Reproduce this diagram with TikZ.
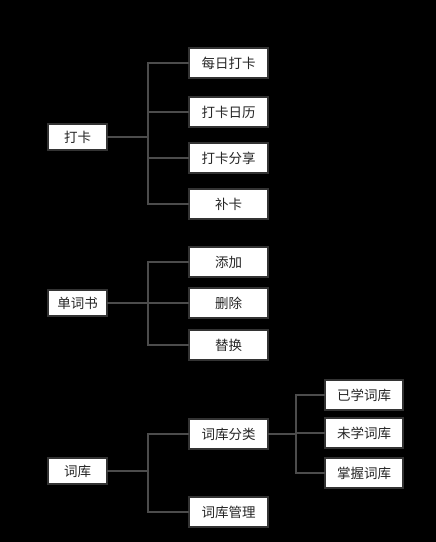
\documentclass[tikz,border=0pt]{standalone}
\usepackage{fontspec}
\setmainfont{Noto Sans CJK SC}
\usetikzlibrary{positioning}

\begin{document}
\begin{tikzpicture} [x=1pt, y=-1pt,
        box/.style = {draw=black!80, line width=1.6pt, fill=white, text=black!85, inner sep=0pt,
            outer sep=0pt, minimum width=79pt, minimum height=30pt, font=\fontsize{13.5}{15}\selectfont},
        root/.style = {box, minimum width=59pt, minimum height=26pt},
        line/.style = {draw=black!70, line width=1.6pt}]
        %Hintergrund
        \path[fill=black, use as bounding box] (0,0) rectangle (436,542);

        %Knoten
        \node[root] (dk) at (77.5,137) {打卡};
        \node[box] (mrdk) [above right = 46pt and 82pt of dk] {每日打卡};
        \node[box] (dkrl) [below = 19pt of mrdk] {打卡日历};
        \node[box] (dkfx) [below = 16pt of dkrl] {打卡分享};
        \node[box] (bk) [below = 16pt of dkfx] {补卡};

        \node[root] (dcs) at (77.5,303) {单词书};
        \node[box] (tj) [above right = 13pt and 82pt of dcs] {添加};
        \node[box] (sc) [below = 11pt of tj] {删除};
        \node[box] (th) [below = 12pt of sc] {替换};

        \node[root] (ck) at (77.5,471) {词库};
        \node[box] (ckfl) [above right = 9pt and 82pt of ck] {词库分类};
        \node[box] (ckgl) [below right = 13pt and 82pt of ck] {词库管理};

        \node[box, minimum width=78pt] (yxck) [above right = 9pt and 57pt of ckfl] {已学词库};
        \node[box, minimum width=78pt] (wxck) [below = 8pt of yxck] {未学词库};
        \node[box, minimum width=78pt] (zwck) [below = 10pt of wxck] {掌握词库};

        %Kanten
        \coordinate (dk-t) at ([xshift=41pt]dk.east);
        \coordinate (dcs-t) at ([xshift=41pt]dcs.east);
        \coordinate (ck-t) at ([xshift=41pt]ck.east);
        \coordinate (ckfl-t) at ([xshift=28pt]ckfl.east);

        \draw[line] (dk.east) -- (dk-t);
        \foreach \c in {mrdk, dkrl, dkfx, bk}
            \draw[line] (dk-t) |- (\c.west);
        \draw[line] (dcs.east) -- (dcs-t);
        \foreach \c in {tj, sc, th}
            \draw[line] (dcs-t) |- (\c.west);
        \draw[line] (ck.east) -- (ck-t);
        \foreach \c in {ckfl, ckgl}
            \draw[line] (ck-t) |- (\c.west);
        \draw[line] (ckfl.east) -- (ckfl-t);
        \foreach \c in {yxck, wxck, zwck}
            \draw[line] (ckfl-t) |- (\c.west);
    \end{tikzpicture}
\end{document}
